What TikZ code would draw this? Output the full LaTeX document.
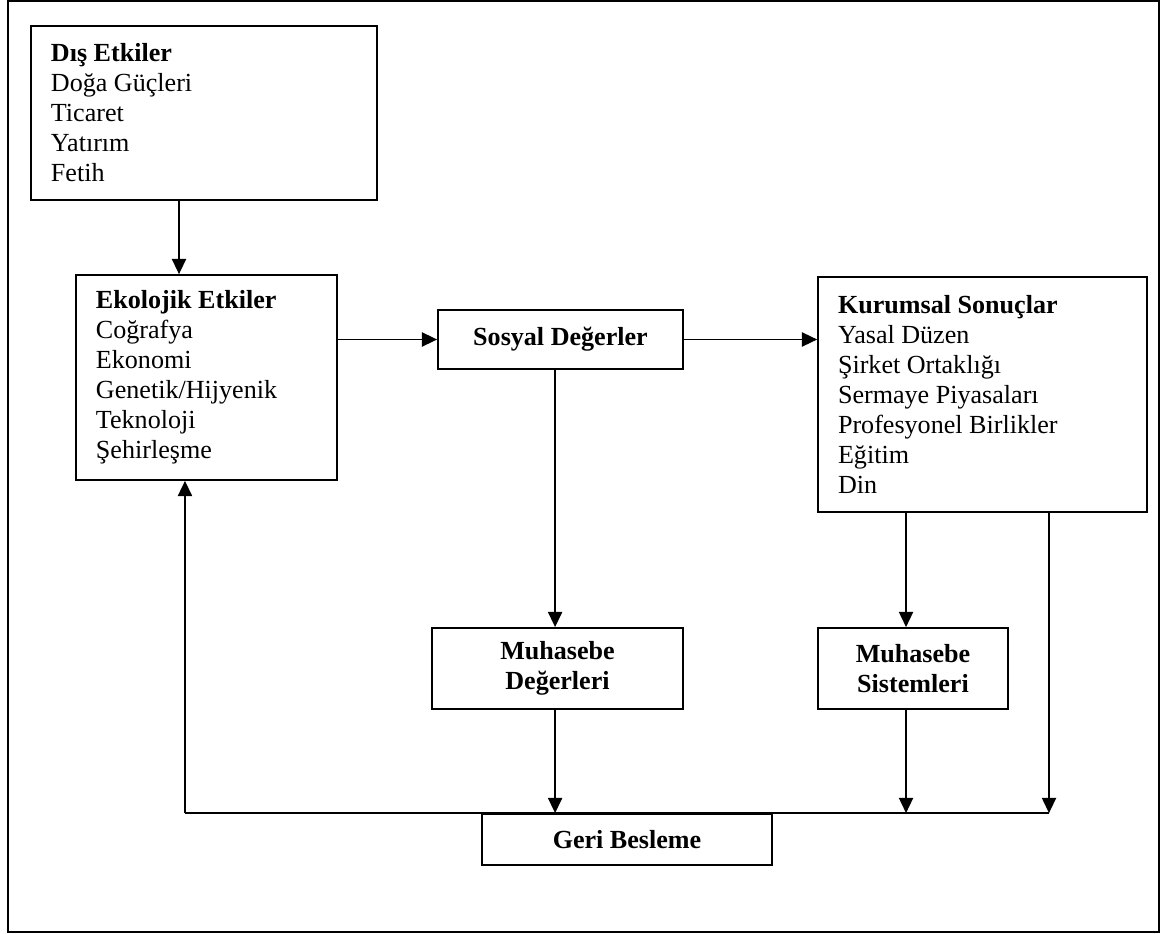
\documentclass[tikz,border=0pt]{standalone}
\usepackage{fontspec}
\setmainfont{Liberation Serif}
\usetikzlibrary{arrows.meta}

\begin{document}
\begin{tikzpicture}[x=0.46pt,y=-0.46pt,->,>={Triangle[length=7pt,width=6.5pt]},thick,
	font=\fontsize{12}{13.8}\selectfont,
	box node/.style={draw,rectangle,inner sep=0pt,align=flush left},
	title node/.style={draw,rectangle,inner sep=0pt,align=center,font=\fontsize{12}{13.8}\selectfont\bfseries}]
	
	\useasboundingbox (0,0) rectangle (1170,934);
	\draw[-] (8,1) rectangle (1159,932);
	
	\node[box node,minimum width=159.2pt,minimum height=80pt,text width=140.8pt] (dis) at (204,113)
		{\textbf{Dış Etkiler}\\Doğa Güçleri\\Ticaret\\Yatırım\\Fetih};
	\node[box node,minimum width=120.1pt,minimum height=94.3pt,text width=101.7pt] (eko) at (206.5,377.5)
		{\textbf{Ekolojik Etkiler}\\Coğrafya\\Ekonomi\\Genetik/Hijyenik\\Teknoloji\\Şehirleşme};
	\node[title node,minimum width=112.7pt,minimum height=27.1pt] (sos) at (560.5,339.5) {Sosyal Değerler};
	\node[box node,minimum width=151.3pt,minimum height=108.1pt,text width=132.9pt] (kur) at (982.5,394.5)
		{\textbf{Kurumsal Sonuçlar}\\Yasal Düzen\\Şirket Ortaklığı\\Sermaye Piyasaları\\Profesyonel Birlikler\\Eğitim\\Din};
	\node[title node,minimum width=115.5pt,minimum height=37.3pt] (mdeg) at (557.5,668.5) {Muhasebe\\Değerleri};
	\node[title node,minimum width=87.4pt,minimum height=37.3pt] (msis) at (913,668.5) {Muhasebe\\Sistemleri};
	\node[title node,minimum width=133.4pt,minimum height=23.5pt] (geri) at (627,839.5) {Geri Besleme};
	
	% feedback line
	\coordinate (fbR) at ([xshift=30.6pt]kur.south |- geri.north);
	\coordinate (fbL) at ([xshift=-9.9pt]eko.south |- geri.north);
	
	\draw ([xshift=-11.5pt]dis.south) -- ([xshift=-11.5pt]dis.south |- eko.north);
	\draw (eko.east |- sos) -- (sos);
	\draw (sos.east) -- (sos.east -| kur.west);
	\draw ([xshift=-1.1pt]mdeg.north |- sos.south) -- ([xshift=-1.1pt]mdeg.north);
	\draw ([xshift=-3.2pt]msis.north |- kur.south) -- ([xshift=-3.2pt]msis.north);
	\draw ([xshift=-1.1pt]mdeg.south) -- ([xshift=-1.1pt]mdeg.south |- geri.north);
	\draw ([xshift=-3.2pt]msis.south) -- ([xshift=-3.2pt]msis.south |- geri.north);
	\draw ([xshift=30.6pt]kur.south) -- (fbR);
	\draw[-] (fbR) -- (fbL);
	\draw (fbL) -- ([xshift=-9.9pt]eko.south);
\end{tikzpicture}
\end{document}
